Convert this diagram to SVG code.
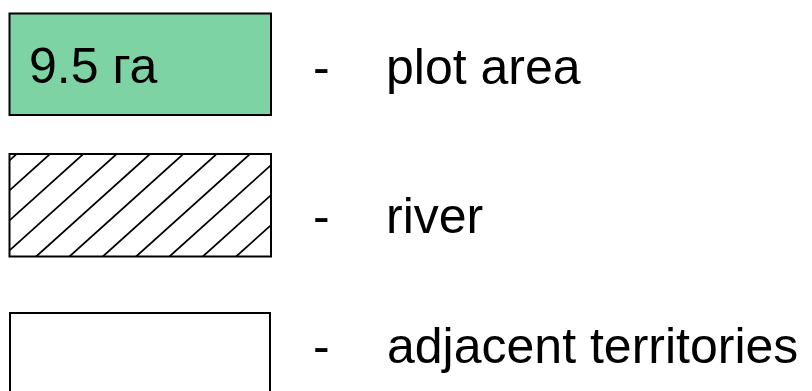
<svg xmlns="http://www.w3.org/2000/svg" width="812" height="391" viewBox="0 0 812 391">
<style>
text{font-family:"Liberation Sans",Arial,sans-serif;font-size:50px;fill:#000}
.box{stroke:#000;stroke-width:2}
.hatch{stroke:#000;stroke-width:1.8}
</style>
<defs>
<clipPath id="riverClip"><rect x="9" y="154" width="262" height="102.7"/></clipPath>
</defs>
<rect width="812" height="391" fill="#fff"/>
<g id="plot">
<rect class="box" x="9.5" y="13.5" width="261.5" height="101.5" fill="#7ED3A5"/>
<text x="29" y="83" font-size="49">9.5 га</text>
<text x="313" y="84">-</text>
<text x="386" y="84">plot area</text>
</g>
<g id="river">
<rect x="9.5" y="154" width="261.5" height="102.5" fill="#fff"/>
<g clip-path="url(#riverClip)">
<line class="hatch" x1="0" y1="169" x2="300" y2="-101"/>
<line class="hatch" x1="0" y1="199" x2="300" y2="-71"/>
<line class="hatch" x1="0" y1="229" x2="300" y2="-41"/>
<line class="hatch" x1="0" y1="259" x2="300" y2="-11"/>
<line class="hatch" x1="0" y1="289" x2="300" y2="19"/>
<line class="hatch" x1="0" y1="319" x2="300" y2="49"/>
<line class="hatch" x1="0" y1="349" x2="300" y2="79"/>
<line class="hatch" x1="0" y1="379" x2="300" y2="109"/>
<line class="hatch" x1="0" y1="409" x2="300" y2="139"/>
<line class="hatch" x1="0" y1="439" x2="300" y2="169"/>
<line class="hatch" x1="0" y1="469" x2="300" y2="199"/>
</g>
<rect class="box" x="9.5" y="154" width="261.5" height="102.5" fill="none"/>
<text x="313" y="233">-</text>
<text x="386" y="233">river</text>
</g>
<g id="adjacent">
<rect class="box" x="10" y="313" width="260" height="90" fill="#fff"/>
<text x="313" y="363">-</text>
<text x="387" y="363">adjacent territories</text>
</g>
</svg>
